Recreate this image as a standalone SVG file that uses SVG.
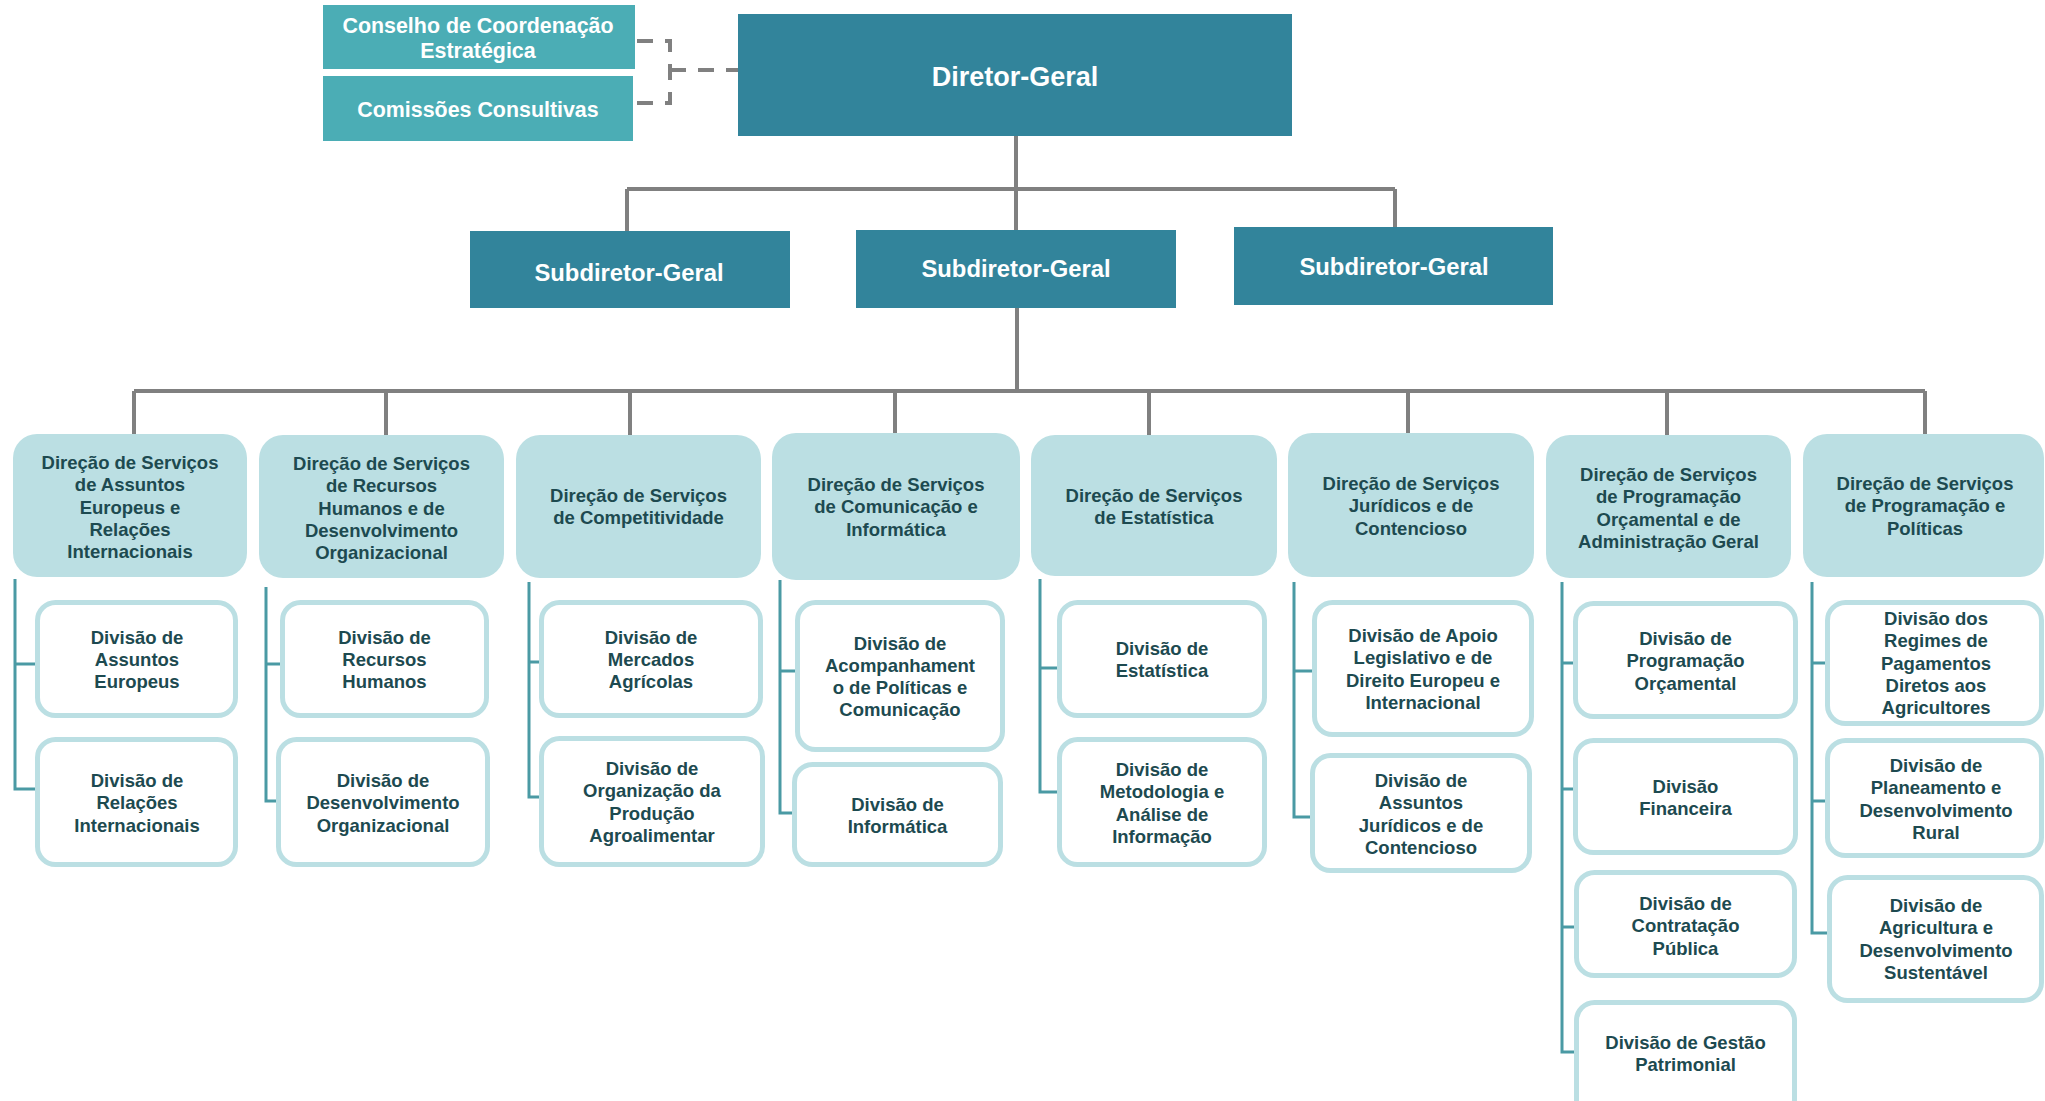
<svg xmlns="http://www.w3.org/2000/svg" width="2045" height="1101" viewBox="0 0 2045 1101">
<style>
.dark{fill:#32849B}
.mid{fill:#4BADB5}
.wt{fill:#FFFFFF;font-family:"Liberation Sans",Arial,sans-serif;font-weight:bold;text-anchor:middle}
.ds{fill:#BBDFE3}
.dv{fill:#FFFFFF;stroke:#BBDFE3;stroke-width:5}
.tx{fill:#1D4A50;font-family:"Liberation Sans",Arial,sans-serif;font-weight:bold;font-size:18.5px;text-anchor:middle}
.g{fill:none;stroke:#808080;stroke-width:4}
.gd{fill:none;stroke:#808080;stroke-width:4;stroke-dasharray:16 12}
.t{fill:none;stroke:#4A9AA4;stroke-width:3}
</style>
<rect width="2045" height="1101" fill="#FFFFFF"/>
<g id="connectors">
<path class="gd" d="M637,41 H670 V103 H637"/>
<path class="gd" d="M670,70 H738"/>
<path class="g" d="M1016,136 V230"/>
<path class="g" d="M627,189 H1395"/>
<path class="g" d="M627,189 V231"/>
<path class="g" d="M1395,189 V227"/>
<path class="g" d="M1017,308 V391"/>
<path class="g" d="M134,391 H1925"/>
<path class="g" d="M134,391 V434 M386,391 V435 M630,391 V435 M895,391 V433 M1149,391 V435 M1408,391 V433 M1667,391 V435 M1925,391 V434"/>
<path class="t" d="M15,579 V789 H35 M15,664 H35"/>
<path class="t" d="M266,587 V801 H276 M266,664 H280"/>
<path class="t" d="M529,582 V797 H539 M529,662 H539"/>
<path class="t" d="M780,580 V813 H792 M780,671 H795"/>
<path class="t" d="M1040,579 V792 H1057 M1040,668 H1057"/>
<path class="t" d="M1294,582 V817 H1310 M1294,671 H1312"/>
<path class="t" d="M1562,582 V1052 H1574 M1562,663 H1573 M1562,789 H1573 M1562,927 H1574"/>
<path class="t" d="M1812,582 V933 H1827 M1812,663 H1825 M1812,801 H1825"/>
</g>
<g id="conselho"><rect class="mid" x="323" y="5" width="312" height="64"/>
<text class="wt" font-size="21.4" x="478"><tspan x="478" y="33">Conselho de Coordenação</tspan><tspan x="478" y="58">Estratégica</tspan></text></g>
<g id="comissoes"><rect class="mid" x="323" y="76" width="310" height="65"/>
<text class="wt" font-size="21.4" x="478" y="117">Comissões Consultivas</text></g>
<g id="diretor"><rect class="dark" x="738" y="14" width="554" height="122"/>
<text class="wt" font-size="27" x="1015" y="86">Diretor-Geral</text></g>
<g id="sub1"><rect class="dark" x="470" y="231" width="320" height="77"/>
<text class="wt" font-size="23.8" x="629" y="281">Subdiretor-Geral</text></g>
<g id="sub2"><rect class="dark" x="856" y="230" width="320" height="78"/>
<text class="wt" font-size="23.8" x="1016" y="277">Subdiretor-Geral</text></g>
<g id="sub3"><rect class="dark" x="1234" y="227" width="319" height="78"/>
<text class="wt" font-size="23.8" x="1394" y="275">Subdiretor-Geral</text></g>

<g id="ds1"><rect class="ds" x="13" y="434" width="234" height="143" rx="24"/>
<text class="tx"><tspan x="130" y="469">Direção de Serviços</tspan><tspan x="130" dy="22.3">de Assuntos</tspan><tspan x="130" dy="22.3">Europeus e</tspan><tspan x="130" dy="22.3">Relações</tspan><tspan x="130" dy="22.3">Internacionais</tspan></text></g>
<g id="ds2"><rect class="ds" x="259" y="435" width="245" height="143" rx="24"/>
<text class="tx"><tspan x="381.5" y="470">Direção de Serviços</tspan><tspan x="381.5" dy="22.3">de Recursos</tspan><tspan x="381.5" dy="22.3">Humanos e de</tspan><tspan x="381.5" dy="22.3">Desenvolvimento</tspan><tspan x="381.5" dy="22.3">Organizacional</tspan></text></g>
<g id="ds3"><rect class="ds" x="516" y="435" width="245" height="143" rx="24"/>
<text class="tx"><tspan x="638.5" y="502">Direção de Serviços</tspan><tspan x="638.5" dy="22.3">de Competitividade</tspan></text></g>
<g id="ds4"><rect class="ds" x="772" y="433" width="248" height="147" rx="24"/>
<text class="tx"><tspan x="896" y="491">Direção de Serviços</tspan><tspan x="896" dy="22.3">de Comunicação e</tspan><tspan x="896" dy="22.3">Informática</tspan></text></g>
<g id="ds5"><rect class="ds" x="1031" y="435" width="246" height="141" rx="24"/>
<text class="tx"><tspan x="1154" y="501.5">Direção de Serviços</tspan><tspan x="1154" dy="22.3">de Estatística</tspan></text></g>
<g id="ds6"><rect class="ds" x="1288" y="433" width="246" height="144" rx="24"/>
<text class="tx"><tspan x="1411" y="490">Direção de Serviços</tspan><tspan x="1411" dy="22.3">Jurídicos e de</tspan><tspan x="1411" dy="22.3">Contencioso</tspan></text></g>
<g id="ds7"><rect class="ds" x="1546" y="435" width="245" height="143" rx="24"/>
<text class="tx"><tspan x="1668.5" y="481">Direção de Serviços</tspan><tspan x="1668.5" dy="22.3">de Programação</tspan><tspan x="1668.5" dy="22.3">Orçamental e de</tspan><tspan x="1668.5" dy="22.3">Administração Geral</tspan></text></g>
<g id="ds8"><rect class="ds" x="1803" y="434" width="241" height="143" rx="24"/>
<text class="tx"><tspan x="1925" y="490">Direção de Serviços</tspan><tspan x="1925" dy="22.3">de Programação e</tspan><tspan x="1925" dy="22.3">Políticas</tspan></text></g>

<g id="d1a"><rect class="dv" x="37.5" y="602.5" width="198" height="113" rx="18"/>
<text class="tx"><tspan x="137" y="643.5">Divisão de</tspan><tspan x="137" dy="22.3">Assuntos</tspan><tspan x="137" dy="22.3">Europeus</tspan></text></g>
<g id="d1b"><rect class="dv" x="37.5" y="739.5" width="198" height="125" rx="18"/>
<text class="tx"><tspan x="137" y="787">Divisão de</tspan><tspan x="137" dy="22.3">Relações</tspan><tspan x="137" dy="22.3">Internacionais</tspan></text></g>
<g id="d2a"><rect class="dv" x="282.5" y="602.5" width="204" height="113" rx="18"/>
<text class="tx"><tspan x="384.5" y="643.5">Divisão de</tspan><tspan x="384.5" dy="22.3">Recursos</tspan><tspan x="384.5" dy="22.3">Humanos</tspan></text></g>
<g id="d2b"><rect class="dv" x="278.5" y="739.5" width="209" height="125" rx="18"/>
<text class="tx"><tspan x="383" y="787">Divisão de</tspan><tspan x="383" dy="22.3">Desenvolvimento</tspan><tspan x="383" dy="22.3">Organizacional</tspan></text></g>
<g id="d3a"><rect class="dv" x="541.5" y="602.5" width="219" height="113" rx="18"/>
<text class="tx"><tspan x="651" y="643.5">Divisão de</tspan><tspan x="651" dy="22.3">Mercados</tspan><tspan x="651" dy="22.3">Agrícolas</tspan></text></g>
<g id="d3b"><rect class="dv" x="541.5" y="738.5" width="221" height="126" rx="18"/>
<text class="tx"><tspan x="652" y="775">Divisão de</tspan><tspan x="652" dy="22.3">Organização da</tspan><tspan x="652" dy="22.3">Produção</tspan><tspan x="652" dy="22.3">Agroalimentar</tspan></text></g>
<g id="d4a"><rect class="dv" x="797.5" y="602.5" width="205" height="147" rx="18"/>
<text class="tx"><tspan x="900" y="649.5">Divisão de</tspan><tspan x="900" dy="22.3">Acompanhament</tspan><tspan x="900" dy="22.3">o de Políticas e</tspan><tspan x="900" dy="22.3">Comunicação</tspan></text></g>
<g id="d4b"><rect class="dv" x="794.5" y="764.5" width="206" height="100" rx="18"/>
<text class="tx"><tspan x="897.5" y="811">Divisão de</tspan><tspan x="897.5" dy="22.3">Informática</tspan></text></g>
<g id="d5a"><rect class="dv" x="1059.5" y="602.5" width="205" height="113" rx="18"/>
<text class="tx"><tspan x="1162" y="655">Divisão de</tspan><tspan x="1162" dy="22.3">Estatística</tspan></text></g>
<g id="d5b"><rect class="dv" x="1059.5" y="739.5" width="205" height="125" rx="18"/>
<text class="tx"><tspan x="1162" y="776">Divisão de</tspan><tspan x="1162" dy="22.3">Metodologia e</tspan><tspan x="1162" dy="22.3">Análise de</tspan><tspan x="1162" dy="22.3">Informação</tspan></text></g>
<g id="d6a"><rect class="dv" x="1314.5" y="602.5" width="217" height="132" rx="18"/>
<text class="tx"><tspan x="1423" y="642">Divisão de Apoio</tspan><tspan x="1423" dy="22.3">Legislativo e de</tspan><tspan x="1423" dy="22.3">Direito Europeu e</tspan><tspan x="1423" dy="22.3">Internacional</tspan></text></g>
<g id="d6b"><rect class="dv" x="1312.5" y="755.5" width="217" height="115" rx="18"/>
<text class="tx"><tspan x="1421" y="787">Divisão de</tspan><tspan x="1421" dy="22.3">Assuntos</tspan><tspan x="1421" dy="22.3">Jurídicos e de</tspan><tspan x="1421" dy="22.3">Contencioso</tspan></text></g>
<g id="d7a"><rect class="dv" x="1575.5" y="603.5" width="220" height="113" rx="18"/>
<text class="tx"><tspan x="1685.5" y="645">Divisão de</tspan><tspan x="1685.5" dy="22.3">Programação</tspan><tspan x="1685.5" dy="22.3">Orçamental</tspan></text></g>
<g id="d7b"><rect class="dv" x="1575.5" y="740.5" width="220" height="112" rx="18"/>
<text class="tx"><tspan x="1685.5" y="793">Divisão</tspan><tspan x="1685.5" dy="22.3">Financeira</tspan></text></g>
<g id="d7c"><rect class="dv" x="1576.5" y="872.5" width="218" height="103" rx="18"/>
<text class="tx"><tspan x="1685.5" y="910">Divisão de</tspan><tspan x="1685.5" dy="22.3">Contratação</tspan><tspan x="1685.5" dy="22.3">Pública</tspan></text></g>
<g id="d7d"><rect class="dv" x="1576.5" y="1002.5" width="218" height="115" rx="18"/>
<text class="tx"><tspan x="1685.5" y="1049">Divisão de Gestão</tspan><tspan x="1685.5" dy="22.3">Patrimonial</tspan></text></g>
<g id="d8a"><rect class="dv" x="1827.5" y="602.5" width="214" height="121" rx="18"/>
<text class="tx"><tspan x="1936" y="625">Divisão dos</tspan><tspan x="1936" dy="22.3">Regimes de</tspan><tspan x="1936" dy="22.3">Pagamentos</tspan><tspan x="1936" dy="22.3">Diretos aos</tspan><tspan x="1936" dy="22.3">Agricultores</tspan></text></g>
<g id="d8b"><rect class="dv" x="1827.5" y="740.5" width="214" height="115" rx="18"/>
<text class="tx"><tspan x="1936" y="772">Divisão de</tspan><tspan x="1936" dy="22.3">Planeamento e</tspan><tspan x="1936" dy="22.3">Desenvolvimento</tspan><tspan x="1936" dy="22.3">Rural</tspan></text></g>
<g id="d8c"><rect class="dv" x="1829.5" y="877.5" width="212" height="123" rx="18"/>
<text class="tx"><tspan x="1936" y="912">Divisão de</tspan><tspan x="1936" dy="22.3">Agricultura e</tspan><tspan x="1936" dy="22.3">Desenvolvimento</tspan><tspan x="1936" dy="22.3">Sustentável</tspan></text></g>
</svg>
